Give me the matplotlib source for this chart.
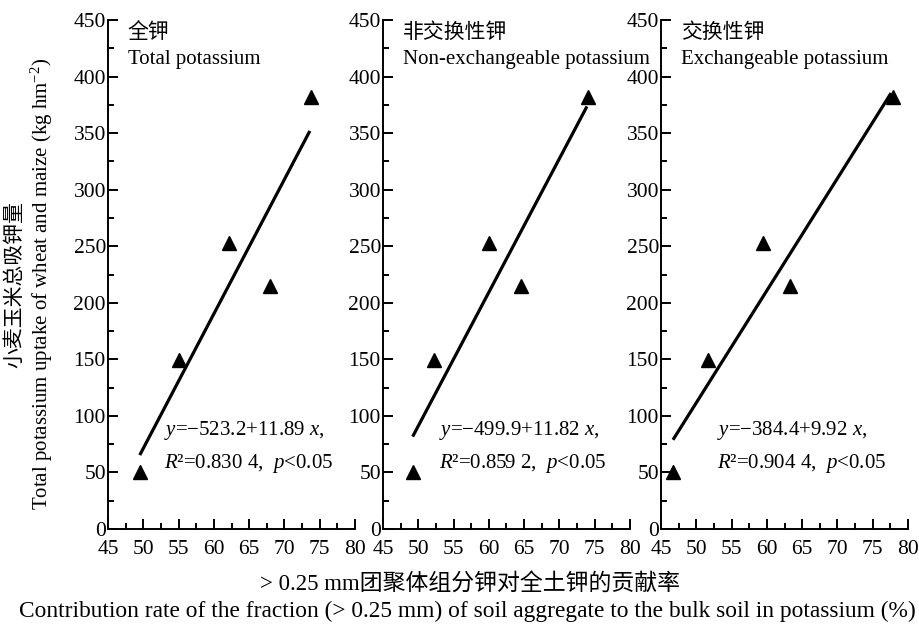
import numpy as np
import matplotlib
matplotlib.use("Agg")
import matplotlib.pyplot as plt
from matplotlib.ticker import MultipleLocator

plt.rcParams['font.family'] = ['Liberation Serif', 'Noto Sans CJK SC']
plt.rcParams['mathtext.fontset'] = 'custom'
plt.rcParams['mathtext.rm'] = 'Liberation Serif'
plt.rcParams['mathtext.it'] = 'Liberation Serif:italic'

# 数据：各面板的贡献率 (x) 与吸钾量 (y)
uptake = [50, 149, 253, 215, 382]
x_total = [49.6, 55.0, 62.2, 67.9, 73.8]
x_nonex = [49.2, 52.2, 60.0, 64.6, 74.1]
x_exch = [46.7, 51.7, 59.5, 63.3, 77.9]

titles_cn = ["全钾", "非交换性钾", "交换性钾"]
titles_en = ["Total potassium", "Non-exchangeable potassium", "Exchangeable potassium"]
intercepts = [-523.2, -499.9, -384.4]
slopes = [11.89, 11.82, 9.92]
eq_text = ["$y$=\u2212523.2+11.89 $x$,", "$y$=\u2212499.9+11.82 $x$,", "$y$=\u2212384.4+9.92 $x$,"]
r2_text = ["$R$\u00b2=0.830 4,  $p$<0.05", "$R$\u00b2=0.859 2,  $p$<0.05", "$R$\u00b2=0.904 4,  $p$<0.05"]
line_x = [(49.5, 73.6), (49.2, 73.9), (46.7, 77.6)]
xs = [x_total, x_nonex, x_exch]

fig = plt.figure(figsize=(9.2, 6.31), dpi=100)
lefts = [108 / 920, 383 / 920, 661 / 920]
W, H = 920, 631

for i in range(3):
    ax = fig.add_axes([lefts[i], 102 / H, 247 / W, 509 / H])
    ax.plot(xs[i], uptake, '^', color='black', markersize=10)
    lx = np.array(line_x[i])
    ax.plot(lx, intercepts[i] + slopes[i] * lx, color='black', lw=2.3, solid_capstyle='butt')
    ax.set_xlim(45, 80)
    ax.set_ylim(0, 450)
    ax.xaxis.set_major_locator(MultipleLocator(5))
    ax.xaxis.set_minor_locator(MultipleLocator(2.5))
    ax.yaxis.set_major_locator(MultipleLocator(50))
    ax.yaxis.set_minor_locator(MultipleLocator(25))
    for s in ['top', 'right']:
        ax.spines[s].set_visible(False)
    for s in ['left', 'bottom']:
        ax.spines[s].set_linewidth(1.4)
    ax.tick_params(which='major', direction='in', length=7, width=1.4, labelsize=15.5)
    ax.tick_params(which='minor', direction='in', length=4.3, width=1.4)
    ax.tick_params(axis='y', pad=1.5)
    ax.tick_params(axis='x', pad=8)
    ax.text(0.08, 0.975, titles_cn[i], transform=ax.transAxes, fontsize=15, va='center')
    ax.text(0.08, 0.922, titles_en[i], transform=ax.transAxes, fontsize=15, va='center', clip_on=False)
    ax.text(53.0, 87, eq_text[i], fontsize=15, va='center')
    ax.text(53.0, 58, r2_text[i], fontsize=15, va='center')

fig.text(15 / W, 1 - 284 / H, "小麦玉米总吸钾量", rotation=90, fontsize=15, ha='center', va='center')
fig.text(42 / W, 1 - 284 / H, "Total potassium uptake of wheat and maize (kg hm$^{-2}$)",
         rotation=90, fontsize=15, ha='center', va='center')
fig.text(470 / W, 1 - 585 / H, "> 0.25 mm团聚体组分钾对全土钾的贡献率", fontsize=16.5, ha='center', va='center')
fig.text(467 / W, 1 - 611 / H, "Contribution rate of the fraction (> 0.25 mm) of soil aggregate to the bulk soil in potassium (%)",
         fontsize=16.8, ha='center', va='center')

fig.savefig("out.png", dpi=100)
